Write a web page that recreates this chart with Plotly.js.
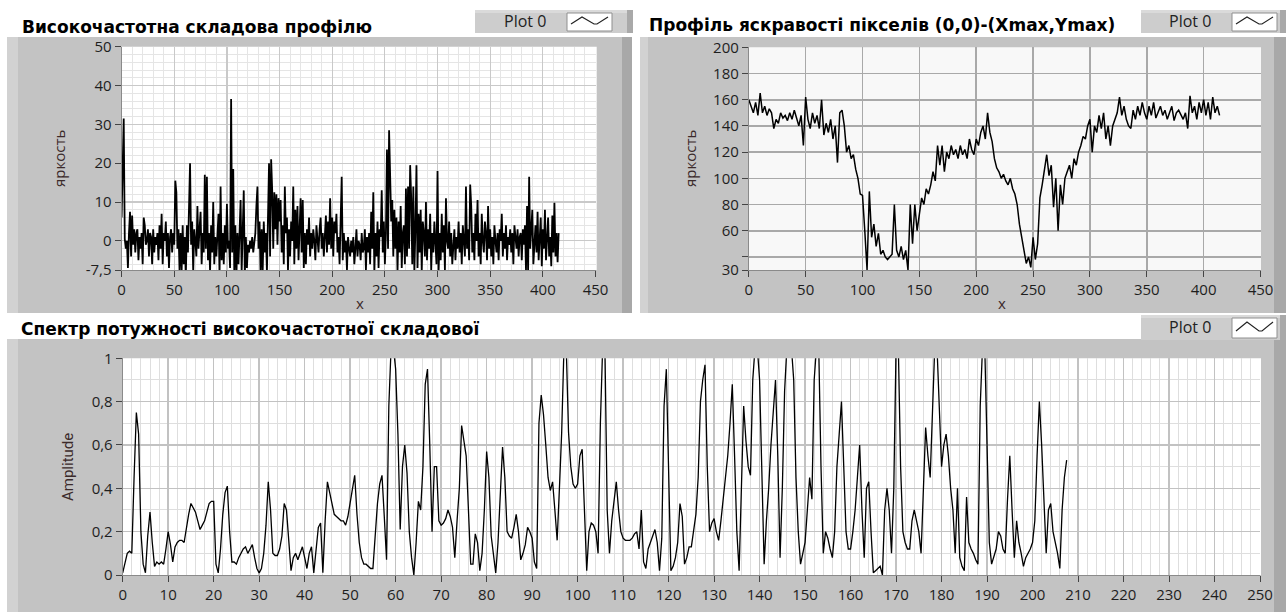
<!DOCTYPE html>
<html>
<head>
<meta charset="utf-8">
<script src="https://cdn.plot.ly/plotly-3.0.1.min.js"></script>
<style>
  html, body { margin: 0; padding: 0; background: #ffffff; }
  #chart { width: 1286px; height: 612px; }
</style>
</head>
<body>
<div id="chart"></div>
<script>
// ---------- DATA ----------
// High-frequency component of the profile (one value per pixel, x = 0..415)
const noiseY = [
  6, 18.5, 31.5, 0.5, -2, 0, -7, 2, 7.5, -4,
  6.5, -1, 3, -3, 2, 3, -5, 1, -2, 2,
  -6, 6, 4, -1, 0, 3, -4, 2, 1, -6,
  3, -3, 1, -1, 2, -5, 4, -2, 7, -6,
  2, 0, 5, -4, 2, -7, 1, 3, -3, 2,
  -1, 15.5, 12.5, -2, 3, -7.5, 2, -8, 4, -6,
  1, -9, 4, -3, 8.5, 20, -1, 5, -8, 3,
  0, -4, 9, -2, 3, 7.5, -6, 2, -3, 17,
  -2, 16.5, -5, 2, -8, 4, -3, 10, -6, 1,
  -4, 3, 7, -9, 14, -5, 2, -6, 4, -3,
  9.5, -2, 0, -7, 36.5, -3, 18.5, -8, 4, -9,
  2, -6, 5, 10.5, -8, 3, 13, -9, 1, -7,
  -1, -3, 0, -2, 1, -3, -1, 2, 9, 14,
  -2, 5, -9, 3, -7.5, 5, -3, 2, -8, 6,
  20, -4, 21, 13, -2, 12.5, 3, 12, -1, 11,
  5, 10.5, -3, 4, -6, 14, 2, 6, -7.5, 3,
  -4, 5, 0, 14, -6, 8, -2, 9, -5, 3,
  11, -3, 10.5, -7, 2, -6, 3, -1, 6, -4,
  2, -2, 3, 0, -5, 4, 1, -3, 3, 6,
  -2, 2, -4, 1, 6.5, -3, 5, -1, 11, -2,
  6, -4, 5, 2, 7, -3, 1, -6, 3, 16.5,
  -5, 2, -3, 0, -7.5, 1, -2, -4, 0, -3,
  1, -6, -2, 3, -4, 0, -1, -5, 2, -3,
  -2, 3, -7.5, 1, -3, 2, -6, 7.5, -2, 12.5,
  -8, 2, -4, 5, -7, 3, 1, 13, -3, 5,
  -6, 2, 23.5, -2, 28.5, 16.5, 5, 10.5, -4, 8,
  -2, 6, -8, 5, -3, 9, -7, 2, 4, -6,
  13.5, -4, 14, -2, 19.5, 11, -6, 14, -8, 3,
  19.5, -7, 7, -3, 8, -8, 5, 2, -4, 10,
  -5, 3, -2, 7, -7.5, 2, -3, 5, 0, -6,
  18, -8, 2, -5, 7, -3, 4, -7.5, 11, 0,
  -2, 5, -4, 2, -6, 0, 3, -5, 1, -2,
  5, -3, 2, -6, 4, 0, -4, 14, -2, 3,
  -5, 14.5, 9, -3, 2, -5, 7, 0, 10.5, -4,
  2, -6, 7, 0, -3, 5, 2, -5, 9, -2,
  3, -4, 1, -6, 4, 0, -3, 2, -5, 3,
  0, 7, -4, 2, -2, 4, -5, 1, -1, 3,
  -3, 2, -6, 4, 0, -2, 3, -4, 1, 2,
  -5, 3, -1, 4, -7.5, 9, -8, 16.5, -2, 3,
  8, -6, 1, 4, -3, 7.5, -5, 2, 6, -6.5,
  3, -2, 8, -5, 2, 6, -4, 1, -6.5, 6.5,
  -3, 9.8, -4, 2, -5.5, 2
];
const noiseStep = 1;

// Brightness profile (0,0)-(Xmax,Ymax), sampled every 2 pixels
const profileY = [
  160, 155, 150, 158, 148, 165, 150, 155, 148, 153,
  150, 138, 145, 142, 150, 146, 148, 144, 150, 145,
  152, 146, 140, 148, 125, 162, 145, 138, 150, 142,
  148, 138, 160, 133, 142, 135, 145, 130, 140, 112,
  150, 152, 140, 120, 125, 115, 118, 107, 100, 88,
  87, 60, 30, 90, 55, 65, 48, 58, 42, 45,
  40, 38, 40, 42, 80, 45, 40, 48, 38, 45,
  30, 80, 50, 80, 60, 75, 85, 80, 92, 88,
  95, 105, 98, 125, 110, 125, 105, 120, 115, 125,
  118, 122, 115, 125, 118, 122, 115, 130, 122, 118,
  130, 125, 135, 140, 130, 150, 135, 128, 115, 108,
  105, 100, 103, 98, 95, 100, 92, 88, 80, 65,
  55, 45, 35, 40, 32, 55, 38, 50, 85, 95,
  105, 118, 102, 110, 78, 100, 60, 95, 80, 100,
  105, 110, 100, 115, 110, 120, 125, 132, 130, 140,
  145, 120, 140, 135, 148, 138, 150, 130, 140, 125,
  140, 145, 150, 162, 148, 155, 145, 140, 138, 152,
  145, 155, 148, 158, 150, 145, 155, 148, 158, 146,
  150, 155, 148, 152, 145, 150, 155, 144, 150, 152,
  148, 145, 150, 138, 163, 150, 155, 145, 158, 150,
  160, 148, 158, 145, 162, 150, 155, 148
];
const profileStep = 2;

// Power spectrum of the high-frequency component (step 0.5)
const spectrumY = [
  0.01, 0.05, 0.1, 0.11, 0.1, 0.45, 0.75, 0.65, 0.2, 0.05,
  0.01, 0.18, 0.29, 0.15, 0.04, 0.06, 0.05, 0.06, 0.05, 0.12,
  0.2, 0.14, 0.06, 0.13, 0.15, 0.16, 0.16, 0.15, 0.22, 0.28,
  0.33, 0.31, 0.29, 0.25, 0.21, 0.23, 0.25, 0.29, 0.33, 0.34,
  0.34, 0.05, 0.01, 0.12, 0.28, 0.38, 0.41, 0.2, 0.06, 0.06,
  0.05, 0.08, 0.1, 0.12, 0.13, 0.1, 0.12, 0.14, 0.08, 0.03,
  0.01, 0.03, 0.1, 0.23, 0.43, 0.3, 0.1, 0.09, 0.09, 0.12,
  0.18, 0.33, 0.3, 0.15, 0.02, 0.08, 0.1, 0.07, 0.1, 0.13,
  0.08, 0.03, 0.1, 0.13, 0.01, 0.12, 0.22, 0.24, 0.01, 0.25,
  0.43, 0.38, 0.33, 0.28, 0.27, 0.26, 0.25, 0.25, 0.23, 0.27,
  0.33, 0.4, 0.46, 0.28, 0.15, 0.08, 0.05, 0.05, 0.04, 0.03,
  0.03, 0.2, 0.33, 0.42, 0.46, 0.27, 0.07, 0.78, 1.05, 1.05,
  0.95, 0.65, 0.21, 0.5, 0.6, 0.47, 0.2, 0.08, 0.0, 0.15,
  0.34, 0.3, 0.5, 0.88, 0.95, 0.6, 0.2, 0.5, 0.5, 0.25,
  0.23, 0.24, 0.26, 0.3, 0.27, 0.22, 0.08, 0.25, 0.4, 0.69,
  0.62, 0.55, 0.3, 0.05, 0.05, 0.19, 0.15, 0.02, 0.1, 0.3,
  0.57, 0.45, 0.18, 0.08, 0.01, 0.15, 0.35, 0.59, 0.45, 0.2,
  0.18, 0.17, 0.22, 0.28, 0.2, 0.07, 0.1, 0.14, 0.22, 0.2,
  0.17, 0.06, 0.03, 0.7, 0.83, 0.74, 0.6, 0.45, 0.39, 0.43,
  0.3, 0.16, 0.4, 0.66, 1.05, 1.05, 0.66, 0.5, 0.42, 0.4,
  0.42, 0.55, 0.58, 0.3, 0.02, 0.2, 0.24, 0.23, 0.2, 0.1,
  0.7, 1.05, 1.05, 0.3, 0.1, 0.25, 0.35, 0.43, 0.3, 0.2,
  0.17, 0.16, 0.16, 0.16, 0.17, 0.19, 0.2, 0.12, 0.3, 0.06,
  0.03, 0.12, 0.15, 0.18, 0.21, 0.15, 0.02, 0.17, 0.78, 0.95,
  0.5, 0.02, 0.04, 0.08, 0.15, 0.33, 0.27, 0.05, 0.08, 0.13,
  0.13, 0.2, 0.28, 0.45, 0.8, 0.9, 0.97, 0.5, 0.2, 0.24,
  0.26, 0.2, 0.16, 0.25, 0.34, 0.45, 0.55, 0.7, 0.88, 0.55,
  0.2, 0.02, 0.4, 0.78, 0.62, 0.5, 0.46, 0.9, 1.05, 1.05,
  0.9, 0.43, 0.05, 0.25, 0.4, 0.6, 0.78, 0.9, 0.55, 0.08,
  0.4, 0.85, 1.05, 1.05, 1.05, 0.9, 0.45, 0.2, 0.05, 0.1,
  0.15, 0.3, 0.45, 0.35, 0.9, 1.05, 1.05, 0.5, 0.1, 0.2,
  0.17, 0.12, 0.08, 0.2, 0.5, 0.65, 0.8, 0.5, 0.2, 0.12,
  0.12, 0.2, 0.3, 0.45, 0.6, 0.3, 0.08, 0.4, 0.43, 0.2,
  0.01, 0.02, 0.03, 0.04, 0.0, 0.3, 0.4, 0.3, 0.1, 0.4,
  1.05, 1.05, 0.5, 0.2, 0.15, 0.12, 0.12, 0.25, 0.3, 0.25,
  0.2, 0.1, 0.4, 0.68, 0.55, 0.45, 0.75, 1.05, 1.05, 0.75,
  0.5, 0.6, 0.65, 0.55, 0.4, 0.3, 0.1, 0.4, 0.08, 0.04,
  0.02, 0.36, 0.15, 0.12, 0.1, 0.07, 0.05, 0.78, 1.05, 1.05,
  0.6, 0.15, 0.05, 0.08, 0.12, 0.2, 0.18, 0.12, 0.1, 0.35,
  0.55, 0.3, 0.08, 0.25, 0.15, 0.1, 0.04, 0.08, 0.1, 0.12,
  0.15, 0.25, 0.55, 0.8, 0.6, 0.35, 0.1, 0.3, 0.33, 0.2,
  0.15, 0.1, 0.03, 0.3, 0.45, 0.53
];
const spectrumStep = 0.5;

// Tick labels
const xTicksTop = [0, 50, 100, 150, 200, 250, 300, 350, 400, 450];
const yTicksNoise = [-7.5, 0, 10, 20, 30, 40, 50];
const yTextNoise = ['-7,5', '0', '10', '20', '30', '40', '50'];
const yTicksProfile = [30, 40, 60, 80, 100, 120, 140, 160, 180, 200];
const yTextProfile = ['30', '', '60', '80', '100', '120', '140', '160', '180', '200'];
const xTicksSpectrum = [0,10,20,30,40,50,60,70,80,90,100,110,120,130,140,150,160,170,180,190,200,210,220,230,240,250];
const yTicksSpectrum = [0, 0.2, 0.4, 0.6, 0.8, 1];
const yTextSpectrum = ['0', '0,2', '0,4', '0,6', '0,8', '1'];

const titles = {
  noise: 'Високочастотна складова профілю',
  profile: 'Профіль яскравості пікселів (0,0)-(Xmax,Ymax)',
  spectrum: 'Спектр потужності високочастотної складової'
};
const legendName = 'Plot 0';

// ---------- LAYOUT HELPERS ----------
const W = 1286, H = 612;
const px = v => v / W;
const py = v => 1 - v / H;

function rect(x0, y0, x1, y1, fill, layer) {
  return { type: 'rect', xref: 'paper', yref: 'paper', x0: px(x0), x1: px(x1), y0: py(y1), y1: py(y0),
           fillcolor: fill, line: { width: 0 }, layer: layer || 'below' };
}
function pathShape(pts, color) {
  const d = pts.map((p, i) => (i ? 'L' : 'M') + px(p[0]) + ',' + py(p[1])).join(' ');
  return { type: 'path', xref: 'paper', yref: 'paper', path: d, line: { color: color, width: 1.2 }, layer: 'above' };
}
function legendShapes(x0, y0, x1, y1, bx0, bx1) {
  return [
    rect(x0, y0, x1, y1, '#cdcdcd', 'above'),
    rect(x0, y0, x1, y0 + 3, '#dadada', 'above'),
    rect(x1 - 6, y0, x1, y1, '#a9a9a9', 'above'),
    Object.assign(rect(bx0, y0 + 3, bx1, y1 - 2, '#ffffff', 'above'), { line: { color: '#8f8f8f', width: 1 } }),
    pathShape([[bx0 + 4, y1 - 9], [bx0 + 15, y0 + 7], [bx0 + 27, y1 - 9], [bx0 + 30, y1 - 9], [bx1 - 4, y0 + 7]], '#222')
  ];
}

const shapes = [
  // grey panels
  rect(7, 37, 632, 313, '#c3c3c3'),
  rect(7, 37, 18, 313, '#d2d2d2'),
  rect(622, 37, 632, 313, '#a8a8a8'),
  rect(640, 37, 1286, 313, '#c3c3c3'),
  rect(640, 37, 648, 313, '#d2d2d2'),
  rect(1274, 37, 1286, 313, '#a8a8a8'),
  rect(7, 339, 1286, 612, '#c3c3c3'),
  rect(7, 339, 18, 612, '#d2d2d2'),
  rect(1274, 339, 1286, 612, '#a8a8a8'),
  // plot area backgrounds
  rect(121.6, 46.7, 596.7, 270, '#ffffff'),
  rect(748.8, 47.3, 1261, 270, '#f8f8f8'),
  rect(122.7, 358.3, 1261, 575, '#ffffff'),
  ...legendShapes(475, 10, 633, 33, 567, 612),
  ...legendShapes(1141, 10, 1286, 33, 1232, 1277),
  ...legendShapes(1141, 315, 1286, 340, 1232, 1277)
];

const titleFont = { family: 'DejaVu Sans', size: 17, color: '#000000' };
const axTitleFont = { family: 'Open Sans', size: 15, color: '#3b2a2a' };
const legFont = { family: 'Open Sans', size: 16, color: '#222222' };

function ann(text, x, y, opts) {
  return Object.assign({ text: text, xref: 'paper', yref: 'paper', x: px(x), y: py(y), showarrow: false,
                         xanchor: 'left', yanchor: 'middle' }, opts || {});
}

const annotations = [
  ann('<b>' + titles.noise + '</b>', 20, 27, { font: titleFont }),
  ann('<b>' + titles.profile + '</b>', 647, 25, { font: titleFont }),
  ann('<b>' + titles.spectrum + '</b>', 19, 329, { font: titleFont }),
  ann(legendName, 525, 21, { xanchor: 'center', font: legFont }),
  ann(legendName, 1190, 21, { xanchor: 'center', font: legFont }),
  ann(legendName, 1190, 327, { xanchor: 'center', font: legFont }),
  ann('яркость', 59, 158, { xanchor: 'center', textangle: -90, font: axTitleFont }),
  ann('x', 360, 303, { xanchor: 'center', font: axTitleFont }),
  ann('яркость', 690, 158, { xanchor: 'center', textangle: -90, font: axTitleFont }),
  ann('x', 1002, 303, { xanchor: 'center', font: axTitleFont }),
  ann('Amplitude', 68, 467, { xanchor: 'center', textangle: -90,
      font: { family: 'Liberation Sans Narrow, Roboto', size: 15, color: '#3b2a2a' } })
];

const tickFont = { family: 'Open Sans', size: 15, color: '#1e1e1e' };
const baseAxis = {
  ticks: 'outside', ticklen: 6, tickwidth: 1, tickcolor: '#444', tickfont: tickFont,
  zeroline: false, showline: true, linecolor: '#8a8a8a', linewidth: 1, fixedrange: true
};

const layout = {
  width: W, height: H,
  margin: { l: 0, r: 0, t: 0, b: 0 },
  paper_bgcolor: '#ffffff', plot_bgcolor: '#ffffff',
  showlegend: false,
  font: { family: 'Open Sans', size: 14, color: '#1e1e1e' },
  shapes: shapes,
  annotations: annotations,
  xaxis: Object.assign({}, baseAxis, {
    domain: [px(121.6), px(595.5)], range: [0, 450], anchor: 'y',
    tickmode: 'array', tickvals: xTicksTop, gridcolor: '#c9c9c9', gridwidth: 1.2,
    minor: { tickmode: 'linear', tick0: 0, dtick: 10, showgrid: true, gridcolor: '#e5e5e5', gridwidth: 1, ticks: '' }
  }),
  yaxis: Object.assign({}, baseAxis, {
    domain: [py(270), py(46.7)], range: [-7.5, 50], anchor: 'x',
    tickmode: 'array', tickvals: yTicksNoise, ticktext: yTextNoise, gridcolor: '#c9c9c9', gridwidth: 1.2,
    minor: { tickmode: 'linear', tick0: 0, dtick: 2, showgrid: true, gridcolor: '#e5e5e5', gridwidth: 1, ticks: '' }
  }),
  xaxis2: Object.assign({}, baseAxis, {
    domain: [px(748.8), px(1260.5)], range: [0, 450], anchor: 'y2',
    tickmode: 'array', tickvals: xTicksTop, gridcolor: '#a9a9a9', gridwidth: 1.6
  }),
  yaxis2: Object.assign({}, baseAxis, {
    domain: [py(270), py(47.3)], range: [30, 200], anchor: 'x2',
    tickmode: 'array', tickvals: yTicksProfile, ticktext: yTextProfile, gridcolor: '#a9a9a9', gridwidth: 1.6
  }),
  xaxis3: Object.assign({}, baseAxis, {
    domain: [px(122.7), px(1260)], range: [0, 250], anchor: 'y3',
    tickmode: 'array', tickvals: xTicksSpectrum, gridcolor: '#c2c2c2', gridwidth: 1.5,
    minor: { tickmode: 'linear', tick0: 0, dtick: 2, showgrid: true, gridcolor: '#dedede', gridwidth: 1, ticks: '' }
  }),
  yaxis3: Object.assign({}, baseAxis, {
    domain: [py(575), py(358.3)], range: [0, 1], anchor: 'x3',
    tickmode: 'array', tickvals: yTicksSpectrum, ticktext: yTextSpectrum, gridcolor: '#c2c2c2', gridwidth: 1.5,
    minor: { tickmode: 'linear', tick0: 0, dtick: 0.1, showgrid: true, gridcolor: '#dedede', gridwidth: 1, ticks: '' }
  })
};

const traces = [
  { type: 'scatter', mode: 'lines', name: legendName, xaxis: 'x', yaxis: 'y',
    x: noiseY.map((_, i) => i * noiseStep), y: noiseY,
    line: { color: '#000000', width: 1.8 }, hoverinfo: 'skip' },
  { type: 'scatter', mode: 'lines', name: legendName, xaxis: 'x2', yaxis: 'y2',
    x: profileY.map((_, i) => i * profileStep), y: profileY,
    line: { color: '#000000', width: 1.5 }, hoverinfo: 'skip' },
  { type: 'scatter', mode: 'lines', name: legendName, xaxis: 'x3', yaxis: 'y3',
    x: spectrumY.map((_, i) => i * spectrumStep), y: spectrumY,
    line: { color: '#000000', width: 1.3 }, hoverinfo: 'skip' }
];

Plotly.newPlot('chart', traces, layout, { displayModeBar: false, staticPlot: true });
</script>
</body>
</html>
